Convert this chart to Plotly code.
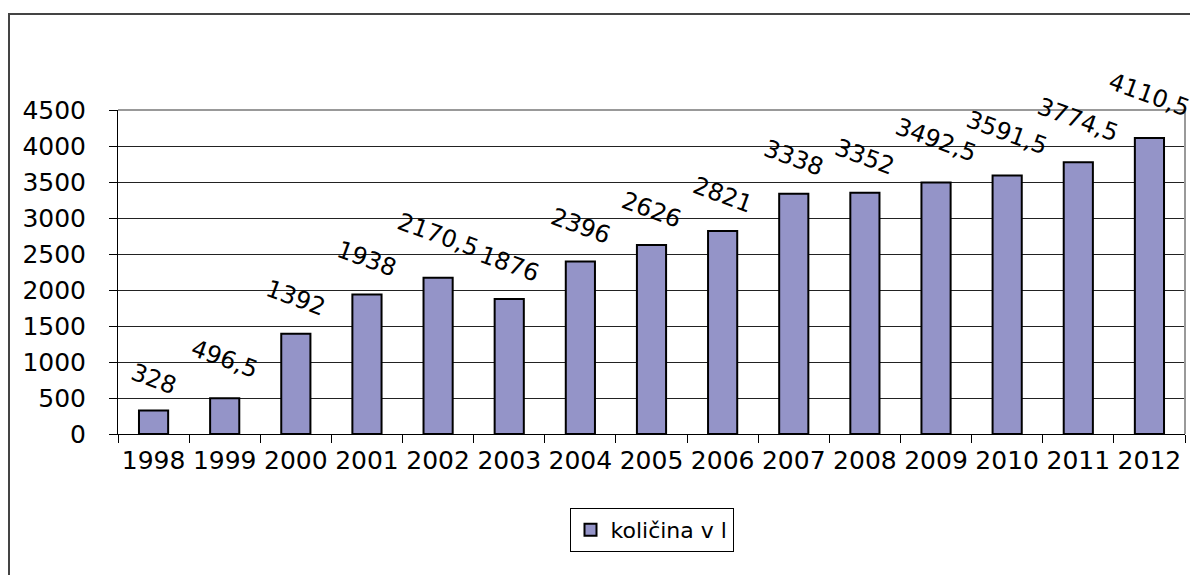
import plotly.graph_objects as go

years = ["1998", "1999", "2000", "2001", "2002", "2003", "2004", "2005",
         "2006", "2007", "2008", "2009", "2010", "2011", "2012"]
values = [328, 496.5, 1392, 1938, 2170.5, 1876, 2396, 2626,
          2821, 3338, 3352, 3492.5, 3591.5, 3774.5, 4110.5]
series_name = "količina v l"
y_ticks = [0, 500, 1000, 1500, 2000, 2500, 3000, 3500, 4000, 4500]

FONT = "DejaVu Sans"

def fmt(v):
    s = ("%g" % v)
    return s.replace(".", ",")

fig = go.Figure()
fig.add_trace(go.Bar(
    x=years, y=values, name=series_name, width=0.41,
    marker=dict(color="#9494C8", line=dict(color="black", width=2)),
    showlegend=True,
))

for i, v in enumerate(values):
    t = fmt(v)
    fig.add_annotation(
        x=i, y=v, text=t, showarrow=False, textangle=20,
        xanchor="center", yanchor="middle",
        yshift=21 + 3.6 * len(t),
        font=dict(family=FONT, size=24, color="black"),
    )

# page body has an 8px margin, so the figure is 8px smaller than the window
OFF = 8
W, H = 1198 - OFF, 575 - OFF
L, R, T, B = 118 - OFF, 13, 110 - OFF, 141
pw = W - L - R
ph = H - T - B

# outer chart border (top and left visible)
fig.add_shape(type="rect", xref="paper", yref="paper",
              x0=(1 - L) / pw, x1=(W + 20 - L) / pw,
              y0=(T + ph - (H + 20)) / ph, y1=(T + ph - 6) / ph,
              line=dict(color="#444", width=2), layer="below")
# plot-area border (gray top/right)
fig.add_shape(type="line", xref="paper", yref="paper", x0=0, x1=1, y0=1, y1=1,
              line=dict(color="#999", width=2))
fig.add_shape(type="line", xref="paper", yref="paper", x0=1, x1=1, y0=0, y1=1,
              line=dict(color="#999", width=2))

fig.update_layout(
    width=W, height=H,
    margin=dict(l=L, r=R, t=T, b=B),
    paper_bgcolor="white", plot_bgcolor="white",
    font=dict(family=FONT, size=24, color="black"),
    legend=dict(
        orientation="h", x=0.5, xanchor="center", y=-(552 - 434) / ph,
        yanchor="bottom", bordercolor="black", borderwidth=1,
        font=dict(family=FONT, size=22, color="black"),
        itemwidth=30, bgcolor="white",
    ),
    xaxis=dict(
        type="category", range=[-0.5, len(years) - 0.5],
        tickson="boundaries", ticks="outside", ticklen=8,
        tickcolor="black", showline=True, linecolor="black", linewidth=1,
        showgrid=False, ticklabelstandoff=4, tickangle=0,
        tickfont=dict(family=FONT, size=25, color="black"),
    ),
    yaxis=dict(
        range=[0, 4500], tickvals=y_ticks, ticks="outside", ticklen=8,
        tickcolor="black", showline=True, linecolor="black", linewidth=1,
        showgrid=True, gridcolor="#222", gridwidth=1, zeroline=False,
        ticklabelstandoff=18,
        tickfont=dict(family=FONT, size=25, color="black"),
    ),
)

fig.write_html("out.html")
